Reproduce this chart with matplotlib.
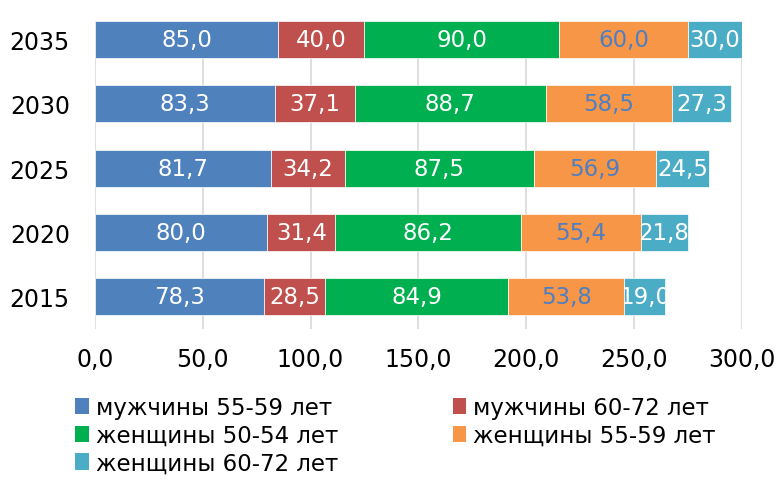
import numpy as np
import matplotlib.pyplot as plt
from matplotlib.patches import Patch

plt.rcParams['font.family'] = ['DejaVu Sans']

# data
years = ["2015", "2020", "2025", "2030", "2035"]
men_55_59 = [78.3, 80.0, 81.7, 83.3, 85.0]
men_60_72 = [28.5, 31.4, 34.2, 37.1, 40.0]
women_50_54 = [84.9, 86.2, 87.5, 88.7, 90.0]
women_55_59 = [53.8, 55.4, 56.9, 58.5, 60.0]
women_60_72 = [19.0, 21.8, 24.5, 27.3, 30.0]

series = [
    ("мужчины 55-59 лет", men_55_59, "#4F81BD", "white"),
    ("мужчины 60-72 лет", men_60_72, "#C0504D", "white"),
    ("женщины 50-54 лет", women_50_54, "#00B050", "white"),
    ("женщины 55-59 лет", women_55_59, "#F79646", "#4F7FC0"),
    ("женщины 60-72 лет", women_60_72, "#4BACC6", "white"),
]

fig = plt.figure(figsize=(7.77, 4.81), dpi=100)
ax = fig.add_axes([0.122, 0.314, 0.833, 0.640])

y = np.arange(len(years))
left = np.zeros(len(years))
handles = []
for name, vals, color, tcolor in series:
    bars = ax.barh(y, vals, left=left, height=0.576, color=color,
                   edgecolor="white", linewidth=0.5, zorder=2)
    texts = ax.bar_label(bars, labels=[f"{v:.1f}".replace(".", ",") for v in vals],
                         label_type="center", color=tcolor, fontsize=16.5)
    # labels that do not fit are cut at the bar edge, like in the original
    for t, b in zip(texts, bars):
        t.set_clip_path(b)
    left += np.array(vals)
    handles.append(Patch(facecolor=color, label=name))

ax.set_xlim(0, 300)
ax.set_ylim(-0.506, 4.288)
ax.set_xticks(np.arange(0, 301, 50))
ax.set_xticklabels([f"{v:.1f}".replace(".", ",") for v in np.arange(0, 301, 50)])
ax.set_yticks(y)
ax.set_yticklabels(years)
ax.tick_params(axis="x", length=0, pad=13, labelsize=17)
ax.tick_params(axis="y", length=0, pad=18, labelsize=17)
ax.grid(axis="x", color="#D9D9D9", linewidth=1.2, zorder=0)
ax.set_axisbelow(True)
for s in ax.spines.values():
    s.set_visible(False)

order = [0, 2, 4, 1, 3]
fig.legend([handles[i] for i in order], [handles[i].get_label() for i in order],
           ncol=2, loc="upper left", bbox_to_anchor=(0.085, 0.193), frameon=False,
           fontsize=16.5, handlelength=0.6, handleheight=0.7, handletextpad=0.3,
           columnspacing=5.0, labelspacing=0.2, borderaxespad=0)

fig.savefig("out.png", dpi=100)
